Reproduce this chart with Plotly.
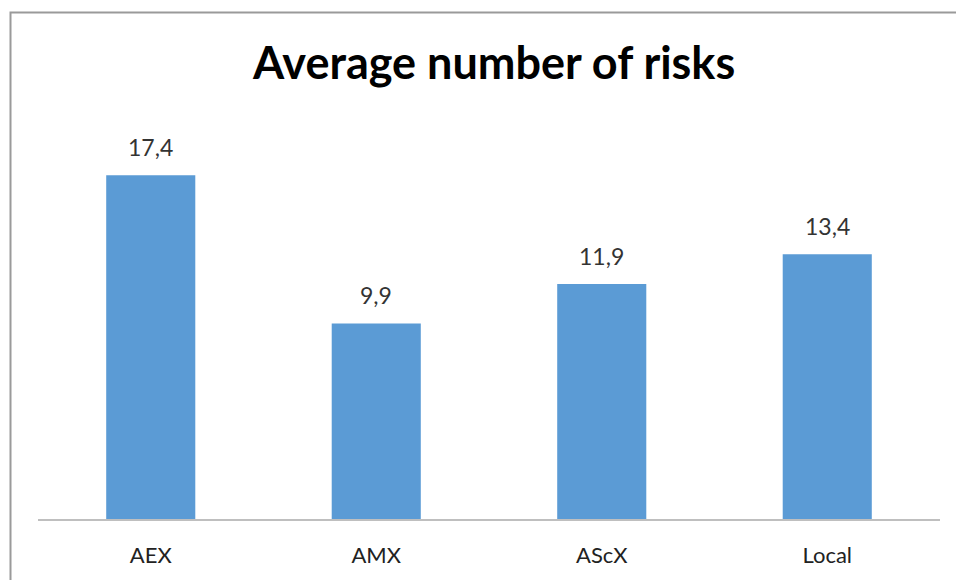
import plotly.graph_objects as go

categories = ["AEX", "AMX", "AScX", "Local"]
values = [17.4, 9.9, 11.9, 13.4]
labels = [f"{v:.1f}".replace(".", ",") for v in values]
title_text = "Average number of risks"

W, H = 956, 580
FONT = "Lato, 'Open Sans', sans-serif"

fig = go.Figure()
fig.add_trace(go.Bar(
    x=categories, y=values,
    marker=dict(color="#5b9bd5", line=dict(width=0)),
    width=0.395,
    hoverinfo="skip",
))

for c, v, t in zip(categories, values, labels):
    fig.add_annotation(x=c, y=v, text=t, showarrow=False, yanchor="bottom",
                       yshift=12, font=dict(family=FONT, size=23, color="#333333"))

fig.add_annotation(xref="paper", yref="paper", x=493 / W, y=1 - 62 / H,
                   text="<b>" + title_text + "</b>", showarrow=False,
                   xanchor="center", yanchor="middle",
                   font=dict(family=FONT, size=45, color="#000000"))

fig.add_shape(type="rect", xref="paper", yref="paper",
              x0=10.5 / W, y0=1 - 12.5 / H, x1=1.2, y1=-0.2,
              line=dict(color="#9a9a9a", width=2), layer="below")

fig.update_layout(
    width=W, height=H,
    margin=dict(l=0, r=0, t=0, b=0),
    paper_bgcolor="white", plot_bgcolor="white",
    showlegend=False,
    bargap=0.6,
    xaxis=dict(domain=[38 / W, 940 / W], showline=True, linecolor="#bfbfbf",
               linewidth=1.5, ticks="", ticklabelstandoff=16,
               tickfont=dict(family=FONT, size=22, color="#222222"),
               showgrid=False, zeroline=False),
    yaxis=dict(domain=[1 - 519 / H, 1 - 124 / H], range=[0, 20], visible=False,
               showgrid=False, zeroline=False),
)

fig.write_html("out.html")
